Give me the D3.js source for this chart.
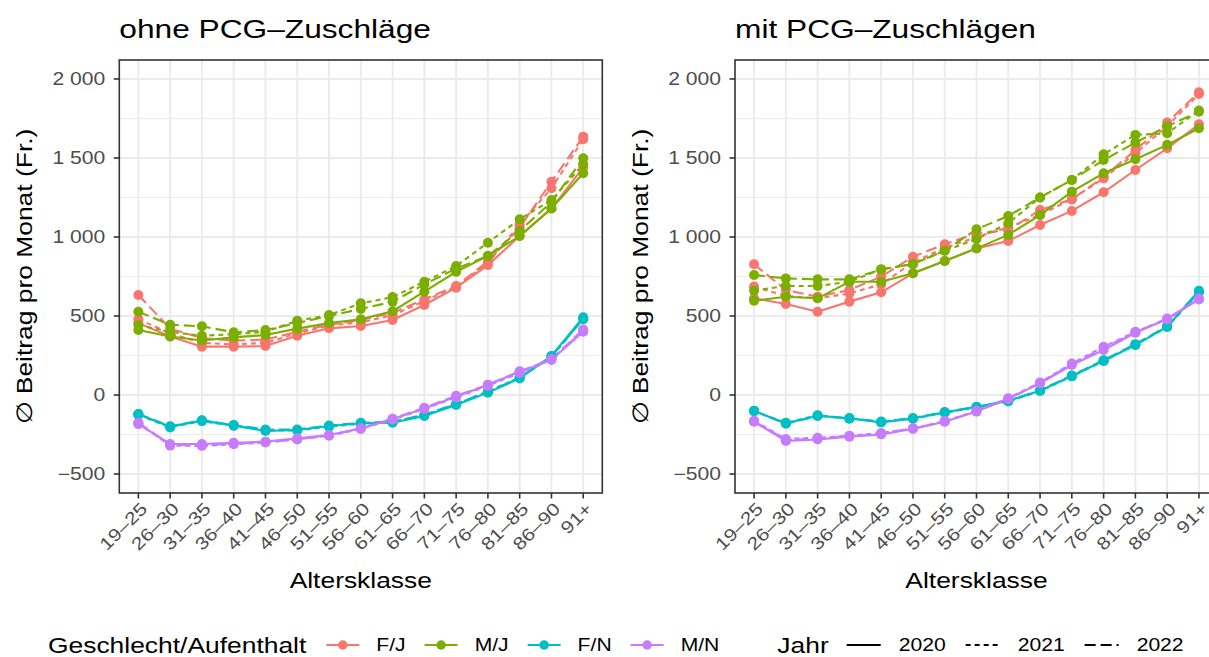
<!DOCTYPE html>
<html>
<head>
<meta charset="utf-8">
<script src="https://cdn.jsdelivr.net/npm/d3@7"></script>
<style>
  body { margin: 0; background: #fff; }
  text { font-family: "Liberation Sans", Arial, sans-serif; }
</style>
</head>
<body>
<script>
// categories
const ages = ["19–25", "26–30", "31–35", "36–40", "41–45", "46–50", "51–55", "56–60",
              "61–65", "66–70", "71–75", "76–80", "81–85", "86–90", "91+"];
const groups = ["F/J", "M/J", "F/N", "M/N"];
const years = ["2020", "2021", "2022"];
const panels = ["ohne PCG–Zuschläge", "mit PCG–Zuschlägen"];
const yTicks = [-500, 0, 500, 1000, 1500, 2000];
const yMinor = [-250, 250, 750, 1250, 1750];

// ohne PCG-Zuschläge
const ohneFJ2020 = [455, 370, 306, 306, 310, 375, 422, 437, 475, 570, 679, 822, 1006, 1180, 1440];
const ohneFJ2021 = [480, 390, 330, 320, 330, 390, 440, 460, 505, 595, 685, 835, 1080, 1308, 1618];
const ohneFJ2022 = [633, 420, 360, 345, 350, 400, 445, 475, 520, 605, 690, 845, 1060, 1350, 1635];
const ohneMJ2020 = [411, 370, 345, 365, 380, 420, 455, 480, 530, 654, 780, 880, 1006, 1181, 1403];
const ohneMJ2021 = [443, 400, 375, 385, 400, 470, 506, 580, 620, 717, 816, 964, 1112, 1234, 1460];
const ohneMJ2022 = [527, 445, 435, 397, 411, 455, 500, 545, 590, 700, 800, 880, 1040, 1220, 1498];
const ohneFN2020 = [-122, -200, -162, -192, -228, -221, -196, -179, -175, -133, -63, 15, 105, 247, 492];
const ohneFN2021 = [-125, -205, -165, -195, -222, -225, -200, -182, -170, -128, -58, 22, 112, 240, 485];
const ohneFN2022 = [-120, -198, -160, -190, -218, -218, -193, -176, -168, -125, -55, 20, 110, 245, 480];
const ohneMN2020 = [-184, -310, -310, -302, -295, -274, -253, -211, -152, -85, -10, 63, 148, 222, 401];
const ohneMN2021 = [-178, -320, -322, -312, -300, -280, -258, -215, -155, -88, -15, 58, 140, 225, 410];
const ohneMN2022 = [-175, -315, -318, -308, -298, -282, -255, -212, -150, -80, -5, 65, 150, 228, 415];

// mit PCG-Zuschlägen
const mitFJ2020 = [612, 576, 527, 591, 650, 770, 848, 928, 975, 1076, 1165, 1283, 1424, 1561, 1713];
const mitFJ2021 = [686, 627, 612, 643, 700, 840, 930, 1000, 1060, 1140, 1240, 1371, 1530, 1700, 1905];
const mitFJ2022 = [827, 665, 622, 665, 749, 875, 954, 1023, 1044, 1171, 1238, 1380, 1550, 1724, 1916];
const mitMJ2020 = [597, 622, 612, 717, 717, 770, 848, 928, 1013, 1139, 1287, 1403, 1492, 1583, 1688];
const mitMJ2021 = [660, 690, 690, 717, 795, 829, 913, 987, 1087, 1250, 1361, 1523, 1646, 1656, 1800];
const mitMJ2022 = [759, 738, 732, 732, 795, 829, 913, 1049, 1133, 1250, 1361, 1487, 1597, 1700, 1793];
const mitFN2020 = [-101, -179, -131, -148, -173, -148, -110, -74, -36, 27, 120, 217, 316, 432, 660];
const mitFN2021 = [-103, -176, -128, -150, -168, -150, -112, -78, -40, 25, 118, 215, 318, 430, 650];
const mitFN2022 = [-99, -182, -133, -146, -170, -145, -108, -76, -38, 30, 124, 220, 322, 436, 655];
const mitMN2020 = [-169, -291, -281, -264, -249, -215, -169, -105, -23, 74, 190, 285, 394, 481, 605];
const mitMN2021 = [-163, -278, -270, -258, -240, -212, -165, -100, -20, 80, 200, 305, 400, 478, 610];
const mitMN2022 = [-166, -285, -276, -260, -245, -210, -168, -102, -25, 76, 196, 298, 398, 484, 608];

const panelData = [
  [[ohneFJ2020, ohneFJ2021, ohneFJ2022], [ohneMJ2020, ohneMJ2021, ohneMJ2022],
   [ohneFN2020, ohneFN2021, ohneFN2022], [ohneMN2020, ohneMN2021, ohneMN2022]],
  [[mitFJ2020, mitFJ2021, mitFJ2022], [mitMJ2020, mitMJ2021, mitMJ2022],
   [mitFN2020, mitFN2021, mitFN2022], [mitMN2020, mitMN2021, mitMN2022]]
];

const width = 1209, height = 657;
const plotTop = 60, plotBottom = 493;
const panelX = [[119.3, 602.3], [735, 1218]];
const stretch = 1.2;   // the reference font runs wider than Liberation Sans

const color = d3.scaleOrdinal().domain(groups).range(["#F8766D", "#7CAE00", "#00BFC4", "#C77CFF"]);
const dash = d3.scaleOrdinal().domain(years).range([null, "5,4", "11,5"]);

const y = d3.scaleLinear().domain([-620, 2120]).range([plotBottom, plotTop]);

const fmt = d3.formatLocale({decimal: ".", thousands: " ", grouping: [3], currency: ["", ""], minus: "−"}).format(",d");

const svg = d3.select("body").append("svg")
  .attr("width", width)
  .attr("height", height)
  .attr("viewBox", [0, 0, width, height]);

// widen text horizontally; anchors are resolved by hand so the stretch keeps them in place
const widen = sel => sel.each(function() {
  const w = this.getComputedTextLength();
  const k = w * stretch;
  const anchor = this.getAttribute("text-anchor") || "start";
  const x = +(this.getAttribute("x") || 0);
  if (anchor === "end") this.setAttribute("x", x - k);
  if (anchor === "middle") this.setAttribute("x", x - k / 2);
  this.setAttribute("text-anchor", "start");
  this.setAttribute("textLength", k);
  this.setAttribute("lengthAdjust", "spacingAndGlyphs");
});

panels.forEach((title, p) => {
  const [x0, x1] = panelX[p];
  const x = d3.scalePoint().domain(ages).range([x0, x1]).padding(0.6);
  const g = svg.append("g");

  // grid
  g.append("g").selectAll("line").data(yMinor).join("line")
    .attr("x1", x0).attr("x2", x1).attr("y1", d => y(d)).attr("y2", d => y(d))
    .attr("stroke", "#EBEBEB").attr("stroke-width", 1);
  g.append("g").selectAll("line").data(yTicks).join("line")
    .attr("x1", x0).attr("x2", x1).attr("y1", d => y(d)).attr("y2", d => y(d))
    .attr("stroke", "#EBEBEB").attr("stroke-width", 2);
  g.append("g").selectAll("line").data(ages).join("line")
    .attr("x1", d => x(d)).attr("x2", d => x(d)).attr("y1", plotTop).attr("y2", plotBottom)
    .attr("stroke", "#EBEBEB").attr("stroke-width", 2);

  // series
  const series = [];
  groups.forEach((grp, i) => years.forEach((yr, j) => {
    series.push({grp, yr, values: panelData[p][i][j]});
  }));

  const line = d3.line().x((d, i) => x(ages[i])).y(d => y(d));
  g.append("g").selectAll("path").data(series).join("path")
    .attr("d", d => line(d.values))
    .attr("fill", "none")
    .attr("stroke", d => color(d.grp))
    .attr("stroke-width", 2.1)
    .attr("stroke-dasharray", d => dash(d.yr));

  g.append("g").selectAll("g").data(series).join("g")
    .attr("fill", d => color(d.grp))
    .selectAll("circle").data(d => d.values).join("circle")
    .attr("cx", (d, i) => x(ages[i]))
    .attr("cy", d => y(d))
    .attr("r", 5);

  // border
  g.append("rect")
    .attr("x", x0).attr("y", plotTop).attr("width", x1 - x0).attr("height", plotBottom - plotTop)
    .attr("fill", "none").attr("stroke", "#333333").attr("stroke-width", 1.6);

  // y axis
  g.append("g").selectAll("line").data(yTicks).join("line")
    .attr("x1", x0 - 5.5).attr("x2", x0).attr("y1", d => y(d)).attr("y2", d => y(d))
    .attr("stroke", "#333333").attr("stroke-width", 1.6);
  g.append("g").selectAll("text").data(yTicks).join("text")
    .attr("x", x0 - 14).attr("y", d => y(d)).attr("dy", "0.36em")
    .attr("text-anchor", "end").attr("font-size", 17.6).attr("fill", "#4D4D4D")
    .text(d => fmt(d)).call(widen);

  // x axis
  g.append("g").selectAll("line").data(ages).join("line")
    .attr("x1", d => x(d)).attr("x2", d => x(d)).attr("y1", plotBottom).attr("y2", plotBottom + 5.5)
    .attr("stroke", "#333333").attr("stroke-width", 1.6);
  g.append("g").selectAll("text").data(ages).join("text")
    .attr("transform", d => `translate(${x(d) + 1},${plotBottom + 8}) rotate(-45)`)
    .attr("dy", "0.72em")
    .attr("text-anchor", "end").attr("font-size", 17.6).attr("fill", "#4D4D4D")
    .text(d => d).call(widen);

  // titles
  g.append("text").attr("x", x0).attr("y", 38).attr("font-size", 26.4)
    .text(title).call(widen);
  g.append("text").attr("x", (x0 + x1) / 2).attr("y", 588).attr("text-anchor", "middle")
    .attr("font-size", 22).text("Altersklasse").call(widen);
  g.append("text")
    .attr("transform", `translate(${x0 - 87},${(plotTop + plotBottom) / 2}) rotate(-90)`)
    .attr("text-anchor", "middle").attr("font-size", 22)
    .text("∅ Beitrag pro Monat (Fr.)").call(widen);
});

// legend
const legY = 645;
const leg = svg.append("g");
let cx = 48;
const addText = (str, size) => {
  const t = leg.append("text").attr("x", cx).attr("y", legY).attr("dy", "0.36em")
    .attr("font-size", size).text(str).call(widen);
  cx += +t.attr("textLength");
};
addText("Geschlecht/Aufenthalt", 22);
groups.forEach((grp, i) => {
  cx += i === 0 ? 20 : 19;
  leg.append("line").attr("x1", cx).attr("x2", cx + 33).attr("y1", legY).attr("y2", legY)
    .attr("stroke", color(grp)).attr("stroke-width", 2.1);
  leg.append("circle").attr("cx", cx + 16.5).attr("cy", legY).attr("r", 4.75).attr("fill", color(grp));
  cx += 33 + 17;
  addText(grp, 17.6);
});
cx += 58;
addText("Jahr", 22);
years.forEach((yr, i) => {
  cx += i === 0 ? 18 : 20;
  leg.append("line").attr("x1", cx).attr("x2", cx + 34).attr("y1", legY).attr("y2", legY)
    .attr("stroke", "#000").attr("stroke-width", 2.1).attr("stroke-dasharray", dash(yr));
  cx += 34 + 18;
  addText(yr, 17.6);
});
</script>
</body>
</html>
